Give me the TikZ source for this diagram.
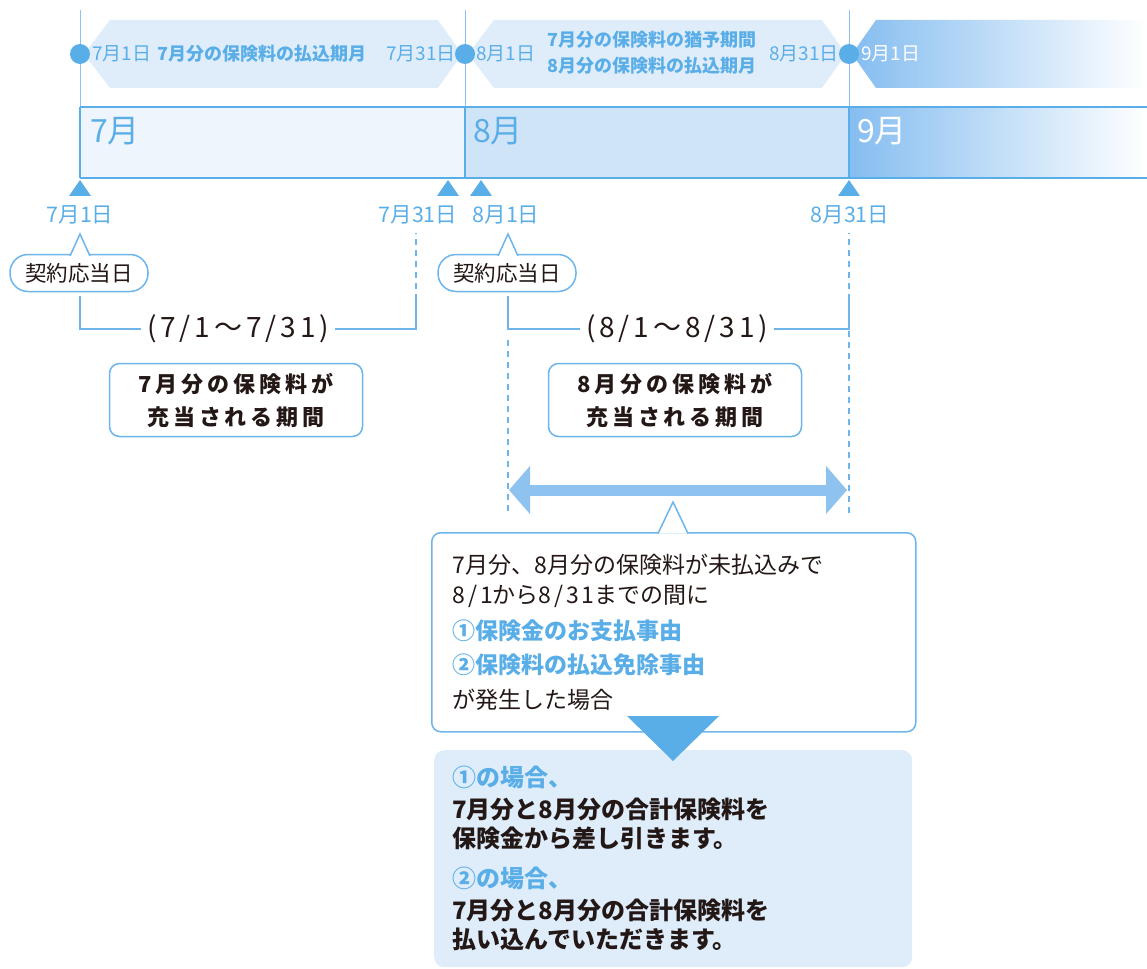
\documentclass[tikz,border=0pt]{standalone}
\usepackage{fontspec}
\setmainfont{Noto Sans CJK JP}
\newfontfamily\jpwide[LetterSpace=14]{Noto Sans CJK JP}
\newfontfamily\jpnarrow[LetterSpace=18]{Noto Sans CJK JP}
\usepackage{tikz}
\usetikzlibrary{positioning,arrows.meta,calc}
\definecolor{tlblue}{HTML}{5AAEE8}
\definecolor{bandblue}{HTML}{DFEDFB}
\definecolor{julfill}{HTML}{EEF5FD}
\definecolor{augfill}{HTML}{D0E4F7}
\definecolor{sepblue}{HTML}{85BDF0}
\definecolor{arrowblue}{HTML}{8EC3F0}
\definecolor{lineblue}{HTML}{6DB5EA}
\definecolor{inkgray}{HTML}{231815}
\newcommand{\fsz}[2]{\fontsize{#1}{#2}\selectfont}
\newcommand{\spread}[1]{{\addfontfeature{LetterSpace=12}#1}}
\tikzset{
    vline/.style={draw=arrowblue, line width=1},
    barline/.style={draw=tlblue, line width=1.5},
    fadeband/.style={left color=sepblue, middle color=sepblue, right color=white},
    dot/.style={circle, fill=tlblue, minimum size=20, inner sep=0},
    bandlbl/.style={inner sep=0, text=tlblue, font=\fsz{19}{22}},
    bandttl/.style={inner sep=0, text=tlblue, align=center, font=\bfseries\fsz{18}{26}},
    monthlbl/.style={inner sep=0, anchor=west, text=tlblue, font=\fsz{32}{34}},
    datelbl/.style={inner sep=0, text=tlblue, font=\fsz{21.5}{24}},
    bubble/.style={
        rectangle,
        rounded corners=18,
        draw=lineblue, line width=1.5,
        fill=white,
        minimum width=138,
        minimum height=37,
        inner xsep=4,
        text=inkgray,
        font=\fsz{21.5}{24}
    },
    boxline/.style={draw=lineblue, line width=1.5},
    bracket/.style={draw=lineblue, line width=1.5},
    guide/.style={draw=lineblue, line width=1.5, dash pattern=on 6pt off 5pt},
    rangelbl/.style={inner xsep=6, text=inkgray, font=\jpwide\fsz{28}{30}},
    periodbox/.style={
        rectangle,
        rounded corners=10,
        draw=lineblue, line width=1.5,
        fill=white,
        minimum width=253,
        minimum height=73,
        align=center,
        text=inkgray,
        font=\jpnarrow\bfseries\fsz{22}{33}
    },
    condbox/.style={
        rectangle,
        rounded corners=9,
        draw=lineblue, line width=1.5,
        fill=white,
        minimum width=484,
        minimum height=199,
        text width=442,
        inner xsep=21,
        align=left,
        text=inkgray,
        font=\fsz{23}{30}
    },
    resultbox/.style={
        rectangle,
        rounded corners=10,
        fill=bandblue,
        minimum width=478,
        minimum height=217,
        text width=442,
        inner xsep=18,
        align=left,
        text=inkgray,
        font=\bfseries\fsz{24}{29}
    },
    fatarrow/.style={
        draw=arrowblue, line width=11,
        {Triangle[length=21pt,width=47pt]}-{Triangle[length=21pt,width=47pt]}
    },
}

\begin{document}
\begin{tikzpicture}[x=1pt, y=-1pt]
\useasboundingbox (0,0) rectangle (1147,968);

\draw[vline] (80,10) -- (80,107);
\draw[vline] (465,10) -- (465,107);
\draw[vline] (849,10) -- (849,107);

\fill[bandblue] (84,54) -- (110,20) -- (438,20) -- (462,54) -- (438,88) -- (110,88) -- cycle;
\fill[bandblue] (468,54) -- (494,20) -- (822,20) -- (846,54) -- (822,88) -- (494,88) -- cycle;
\shade[fadeband] (852,54) -- (876,20) -- (1147,20) -- (1147,88) -- (876,88) -- cycle;

\node[dot] (p1) at (80,54) {};
\node[dot] (p2) at (465,54) {};
\node[dot] (p3) at (849,54) {};

\node[bandlbl, anchor=west] (b701) at (92,54) {7月1日};
\node[bandttl] (due7) at (262,54) {7月分の保険料の払込期月};
\node[bandlbl, anchor=east] (b731) at (456,54) {7月31日};
\node[bandlbl, anchor=west] (b801) at (476,54) {8月1日};
\node[bandttl] (due8) at (652,53) {7月分の保険料の猶予期間\\8月分の保険料の払込期月};
\node[bandlbl, anchor=east] (b831) at (839,54) {8月31日};
\node[bandlbl, anchor=west, text=white] (b901) at (861,54) {9月1日};

\fill[julfill] (80,107) rectangle (465,178);
\fill[augfill] (465,107) rectangle (849,178);
\shade[fadeband] (849,107) rectangle (1147,178);
\draw[barline] (80,107) -- (1147,107) (80,178) -- (1147,178)
    (80,107) -- (80,178) (465,107) -- (465,178) (849,107) -- (849,178);

\node[monthlbl] (m7) at (90,131) {7月};
\node[monthlbl] (m8) at (473,131) {8月};
\node[monthlbl, text=white] (m9) at (857,131) {9月};

\fill[tlblue] (69,196) -- (80,180) -- (91,196) -- cycle;
\fill[tlblue] (437,196) -- (448,180) -- (459,196) -- cycle;
\fill[tlblue] (470,196) -- (481,180) -- (492,196) -- cycle;
\fill[tlblue] (838,196) -- (849,180) -- (860,196) -- cycle;

\node[datelbl] (d701) at (80,215) {7月1日};
\node[datelbl] (d731) at (418,215) {7月31日};
\node[datelbl] (d801) at (506,215) {8月1日};
\node[datelbl] (d831) at (850,215) {8月31日};

\node[bubble] (cd1) at (79,273) {契約応当日};
\node[bubble] (cd2) at (507,273) {契約応当日};
\draw[boxline, fill=white] (70,256) -- (80,234) -- (90,256);
\draw[boxline, fill=white] (498,256) -- (508,234) -- (518,256);

\node[rangelbl] (rng1) at (238,329) {(7/1〜7/31)};
\node[rangelbl] (rng2) at (677,329) {(8/1〜8/31)};
\coordinate (s1) at (80,296);
\coordinate (e1) at (416,300);
\coordinate (s2) at (508,296);
\coordinate (e2) at (849,300);
\draw[bracket] (s1) |- (rng1.west);
\draw[bracket] (rng1.east) -| (e1);
\draw[guide] (e1) -- (416,233);
\draw[bracket] (s2) |- (rng2.west);
\draw[bracket] (rng2.east) -| (e2);
\draw[guide] (e2) -- (849,233);

\node[periodbox] (pay7) at (236,400) {7月分の保険料が\\充当される期間};
\node[periodbox] (pay8) at (675,400) {8月分の保険料が\\充当される期間};

\coordinate (g1) at (508,340);
\coordinate (g2) at (849,331);
\draw[guide] (g1) -- (508,513);
\draw[guide] (g2) -- (849,513);
\coordinate (a1) at (509,490);
\coordinate (a2) at (847,490);
\draw[fatarrow] (a1) -- (a2);

\node[resultbox, anchor=north west] (res) at (434,750) {\textcolor{tlblue}{①の場合、}\\[3pt]7月分と8月分の合計保険料を\\保険金から差し引きます。\\[11pt]\textcolor{tlblue}{②の場合、}\\[3pt]7月分と8月分の合計保険料を\\払い込んでいただきます。};

\node[condbox, anchor=north west] (cond) at (431,532) {7月分、8月分の保険料が未払込みで\\\spread{8/1}から\spread{8/31}までの間に\\[6pt]\textcolor{tlblue}{\bfseries ①保険金のお支払事由}\\[4pt]\textcolor{tlblue}{\bfseries ②保険料の払込免除事由}\\[5pt]が発生した場合};
\draw[boxline, fill=white] (658,533.5) -- (673,502) -- (688,533.5);
\fill[tlblue] (627,716) -- (719,716) -- (673,761) -- cycle;
\end{tikzpicture}
\end{document}
